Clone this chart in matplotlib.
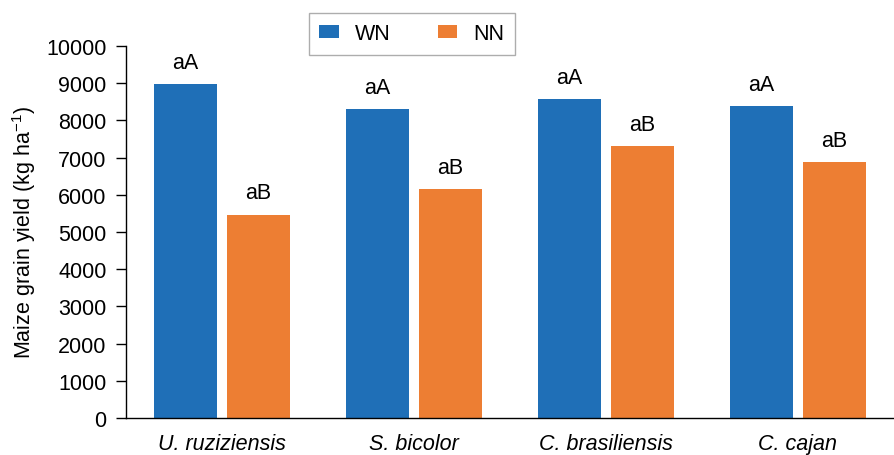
import matplotlib
matplotlib.use("Agg")
import matplotlib.pyplot as plt
import numpy as np

plt.rcParams['font.family'] = ['Liberation Sans', 'DejaVu Sans']

categories = ["U. ruziziensis", "S. bicolor", "C. brasiliensis", "C. cajan"]
wn_values = [8970, 8300, 8580, 8380]
nn_values = [5470, 6150, 7300, 6870]
wn_labels = ["aA", "aA", "aA", "aA"]
nn_labels = ["aB", "aB", "aB", "aB"]
yticks = [0, 1000, 2000, 3000, 4000, 5000, 6000, 7000, 8000, 9000, 10000]

blue = "#1F6FB7"
orange = "#ED7E33"
fs = 15.5

fig = plt.figure(figsize=(8.94, 4.56), dpi=100)
ax = fig.add_axes([126/894, 37/456, (894-126)/894, (419-47)/456])

x = np.arange(len(categories))
w = 0.325
off = 0.19
b1 = ax.bar(x - off, wn_values, w, color=blue, label="WN")
b2 = ax.bar(x + off, nn_values, w, color=orange, label="NN")

for xi, v, t in zip(x - off, wn_values, wn_labels):
    ax.text(xi, v + 300, t, ha='center', va='bottom', fontsize=fs)
for xi, v, t in zip(x + off, nn_values, nn_labels):
    ax.text(xi, v + 300, t, ha='center', va='bottom', fontsize=fs)

ax.set_xlim(-0.5, 3.5)
ax.set_ylim(0, 10000)
ax.set_yticks(yticks)
ax.set_yticklabels([str(t) for t in yticks], fontsize=fs)
ax.set_xticks(x)
ax.set_xticklabels(categories, fontsize=fs, style='italic')
ax.tick_params(axis='x', length=0, pad=11)
ax.tick_params(axis='y', length=7, width=1, pad=7, direction='out')
ax.spines['top'].set_visible(False)
ax.spines['right'].set_visible(False)
ax.spines['left'].set_linewidth(1)
ax.spines['bottom'].set_linewidth(1)
ax.set_ylabel("Maize grain yield (kg ha$^{\\mathregular{-1}}$)", fontsize=fs, labelpad=6)

leg = fig.legend(handles=[b1, b2], labels=["WN", "NN"], loc='center',
                 bbox_to_anchor=(412/894, 1 - 35/456), ncol=2, frameon=True,
                 fancybox=False, edgecolor='#999999', fontsize=fs,
                 handlelength=0.9, handleheight=0.55, columnspacing=2.2,
                 handletextpad=0.75, borderpad=0.5, borderaxespad=0)
leg.get_frame().set_linewidth(1)

fig.savefig("out.png", dpi=100)
